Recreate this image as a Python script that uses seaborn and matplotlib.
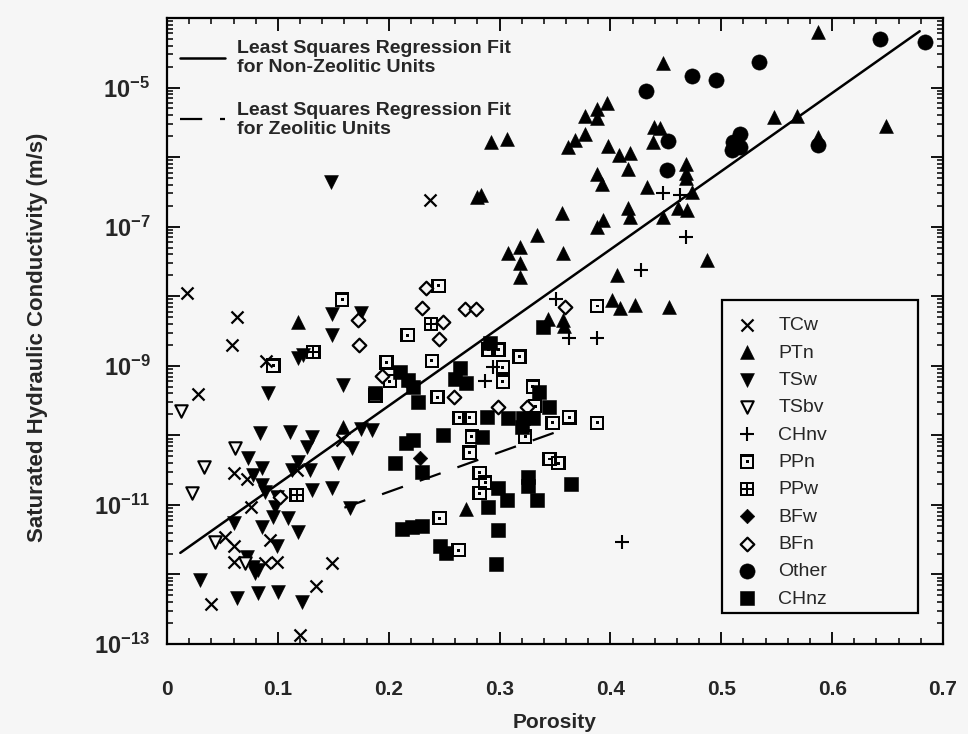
import numpy as np
import pandas as pd
import matplotlib
matplotlib.use("Agg")
import matplotlib.pyplot as plt
import seaborn as sns
from matplotlib.path import Path
from matplotlib.lines import Line2D
from matplotlib.ticker import FixedLocator, FuncFormatter, MultipleLocator, NullFormatter

# ---------------- data (porosity, log10 of saturated hydraulic conductivity in m/s) -------------
tcw_por = [0.018, 0.063, 0.059, 0.089, 0.028, 0.237, 0.060, 0.072, 0.076, 0.052, 0.060, 0.060,
           0.088, 0.099, 0.093, 0.117, 0.158, 0.149, 0.134, 0.040, 0.120]
tcw_logk = [-7.95, -8.30, -8.70, -8.93, -9.41, -6.62, -10.54, -10.63, -11.03, -11.46, -11.59, -11.82,
            -11.83, -11.82, -11.50, -10.50, -10.07, -11.83, -12.17, -12.42, -12.87]

ptn_por = [0.118, 0.159, 0.270, 0.280, 0.283, 0.292, 0.307, 0.308, 0.318, 0.334, 0.357, 0.318,
           0.318, 0.388, 0.344, 0.357, 0.358, 0.356, 0.362, 0.368, 0.377, 0.377, 0.388, 0.388,
           0.397, 0.398, 0.408, 0.418, 0.416, 0.388, 0.392, 0.433, 0.416, 0.418, 0.393, 0.447,
           0.447, 0.439, 0.445, 0.438, 0.406, 0.401, 0.409, 0.422, 0.453, 0.487, 0.468, 0.468,
           0.468, 0.474, 0.461, 0.469, 0.548, 0.568, 0.587, 0.587, 0.649]
ptn_logk = [-8.37, -9.88, -11.06, -6.57, -6.54, -5.78, -5.74, -7.38, -7.29, -7.12, -7.38, -7.52,
            -7.72, -7.00, -8.33, -8.34, -8.43, -6.80, -5.85, -5.75, -5.67, -5.41, -5.31, -5.44,
            -5.22, -5.84, -5.97, -5.94, -6.17, -6.24, -6.39, -6.43, -6.73, -6.86, -6.90, -6.86,
            -4.65, -5.57, -5.58, -5.78, -7.69, -8.05, -8.17, -8.13, -8.15, -7.48, -6.10, -6.23,
            -6.30, -6.50, -6.73, -6.76, -5.42, -5.41, -4.20, -5.71, -5.55]

tsw_por = [0.148, 0.149, 0.149, 0.175, 0.118, 0.123, 0.091, 0.159, 0.084, 0.111, 0.131, 0.073,
           0.126, 0.086, 0.078, 0.118, 0.113, 0.129, 0.154, 0.167, 0.086, 0.088, 0.099, 0.131,
           0.149, 0.097, 0.096, 0.109, 0.060, 0.086, 0.118, 0.099, 0.072, 0.078, 0.082, 0.079,
           0.030, 0.063, 0.082, 0.100, 0.122, 0.165, 0.175, 0.185]
tsw_logk = [-6.36, -8.26, -8.56, -8.24, -8.89, -8.84, -9.39, -9.28, -9.97, -9.95, -10.02, -10.33,
            -10.17, -10.47, -10.57, -10.38, -10.50, -10.50, -10.40, -10.18, -10.71, -10.81, -10.89, -10.79,
            -10.76, -11.03, -11.17, -11.19, -11.26, -11.32, -11.39, -11.59, -11.75, -11.89, -11.94, -11.98,
            -12.08, -12.34, -12.27, -12.25, -12.40, -11.04, -9.91, -9.92]

tsbv_por = [0.013, 0.033, 0.023, 0.061, 0.043, 0.070]
tsbv_logk = [-9.65, -10.45, -10.83, -10.18, -11.53, -11.83]

chnv_por = [0.447, 0.463, 0.468, 0.428, 0.388, 0.363, 0.351, 0.294, 0.287, 0.410]
chnv_logk = [-6.52, -6.54, -7.15, -7.62, -8.60, -8.60, -8.04, -9.02, -9.22, -11.53]

ppn_por = [0.096, 0.158, 0.245, 0.217, 0.198, 0.239, 0.201, 0.188, 0.244, 0.290, 0.299, 0.318,
           0.303, 0.303, 0.330, 0.332, 0.264, 0.273, 0.348, 0.363, 0.388, 0.388, 0.323, 0.275,
           0.273, 0.282, 0.287, 0.282, 0.246, 0.263, 0.345, 0.353]
ppn_logk = [-9.00, -8.05, -7.85, -8.56, -8.95, -8.93, -9.22, -9.43, -9.45, -8.77, -8.77, -8.87,
            -9.02, -9.23, -9.30, -9.58, -9.75, -9.75, -9.82, -9.74, -9.82, -8.14, -10.02, -10.02,
            -10.25, -10.54, -10.68, -10.83, -11.19, -11.65, -10.34, -10.40]

ppw_por = [0.132, 0.238, 0.117]
ppw_logk = [-8.80, -8.40, -10.86]

bfw_por = [0.228, 0.221]
bfw_logk = [-10.33, -9.29]

bfn_por = [0.172, 0.173, 0.234, 0.230, 0.269, 0.279, 0.249, 0.245, 0.194, 0.259, 0.299, 0.325,
           0.359, 0.102]
bfn_logk = [-8.34, -8.70, -7.88, -8.17, -8.18, -8.18, -8.37, -8.61, -9.15, -9.45, -9.59, -9.59,
            -8.15, -10.89]

other_por = [0.432, 0.474, 0.495, 0.534, 0.643, 0.684, 0.452, 0.451, 0.517, 0.511, 0.510, 0.517, 0.587]
other_logk = [-5.05, -4.83, -4.89, -4.63, -4.30, -4.35, -5.77, -6.19, -5.67, -5.78, -5.90, -5.85, -5.83]

chnz_por = [0.291, 0.264, 0.260, 0.270, 0.210, 0.217, 0.222, 0.188, 0.226, 0.289, 0.308, 0.321,
            0.330, 0.336, 0.345, 0.320, 0.249, 0.284, 0.222, 0.216, 0.206, 0.230, 0.326, 0.326,
            0.299, 0.307, 0.290, 0.334, 0.364, 0.212, 0.221, 0.230, 0.246, 0.252, 0.299, 0.297, 0.339]
chnz_logk = [-8.67, -9.03, -9.19, -9.25, -9.09, -9.20, -9.30, -9.39, -9.52, -9.74, -9.75, -9.75,
             -9.75, -9.38, -9.59, -9.88, -10.00, -10.02, -10.07, -10.11, -10.40, -10.53, -10.60, -10.73,
             -10.76, -10.93, -11.03, -10.93, -10.70, -11.35, -11.32, -11.30, -11.59, -11.69, -11.36, -11.85, -8.44]

# regression fits (porosity end points, log10 K end points)
fit_nonzeo_por = [0.012, 0.679]
fit_nonzeo_logk = [-11.69, -4.19]
fit_zeo_por = [0.160, 0.355]
fit_zeo_logk = [-11.04, -9.93]

unit_labels = ["TCw", "PTn", "TSw", "TSbv", "CHnv", "PPn", "PPw", "BFw", "BFn", "Other", "CHnz"]
fit_labels = ["Least Squares Regression Fit\nfor Non-Zeolitic Units",
              "Least Squares Regression Fit\nfor Zeolitic Units"]

# ---------------- styling ----------------
BG = "#f6f6f6"
sns.set_theme(style="ticks")
plt.rcParams["font.family"] = ["Liberation Sans", "DejaVu Sans"]
plt.rcParams["mathtext.fontset"] = "custom"
plt.rcParams["mathtext.rm"] = "Liberation Sans:bold"
plt.rcParams["mathtext.it"] = "Liberation Sans:bold"
plt.rcParams["mathtext.bf"] = "Liberation Sans:bold"
plt.rcParams["mathtext.default"] = "rm"


def rect(x0, y0, x1, y1, ccw=True):
    pts = [(x0, y0), (x1, y0), (x1, y1), (x0, y1)]
    if not ccw:
        pts = pts[::-1]
    return pts + [(x0, y0)], [Path.MOVETO, Path.LINETO, Path.LINETO, Path.LINETO, Path.CLOSEPOLY]


def compound(parts):
    verts, codes = [], []
    for v, c in parts:
        verts += v
        codes += c
    return Path(verts, codes)


inner = 0.68
dot_marker = compound([rect(-1, -1, 1, 1), rect(-inner, -inner, inner, inner, ccw=False),
                       rect(-0.2, -0.2, 0.2, 0.2)])
t = 0.13
grid_marker = compound([rect(-1, -1, 1, 1),
                        rect(-inner, -inner, -t, -t, ccw=False), rect(t, -inner, inner, -t, ccw=False),
                        rect(-inner, t, -t, inner, ccw=False), rect(t, t, inner, inner, ccw=False)])

groups = [
    ("TCw", tcw_por, tcw_logk, dict(marker="x", s=75, color="black", linewidth=1.6)),
    ("PTn", ptn_por, ptn_logk, dict(marker="^", s=100, color="black", edgecolor="black", linewidth=0.4)),
    ("TSw", tsw_por, tsw_logk, dict(marker="v", s=100, color="black", edgecolor="black", linewidth=0.4)),
    ("TSbv", tsbv_por, tsbv_logk, dict(marker="v", s=80, facecolor=BG, edgecolor="black", linewidth=1.5)),
    ("CHnv", chnv_por, chnv_logk, dict(marker="+", s=95, color="black", linewidth=1.5)),
    ("PPn", ppn_por, ppn_logk, dict(marker=dot_marker, s=110, color="black", edgecolor="none", linewidth=0)),
    ("PPw", ppw_por, ppw_logk, dict(marker=grid_marker, s=110, color="black", edgecolor="none", linewidth=0)),
    ("BFw", bfw_por, bfw_logk, dict(marker="D", s=55, color="black", edgecolor="black", linewidth=0.4)),
    ("BFn", bfn_por, bfn_logk, dict(marker="D", s=48, facecolor=BG, edgecolor="black", linewidth=1.6)),
    ("Other", other_por, other_logk, dict(marker="o", s=120, color="black", edgecolor="black", linewidth=0.4)),
    ("CHnz", chnz_por, chnz_logk, dict(marker="s", s=110, color="black", edgecolor="black", linewidth=0.4)),
]

fig = plt.figure(figsize=(9.68, 7.34), dpi=100, facecolor=BG)
ax = fig.add_axes([167 / 968, 1 - 644 / 734, (943 - 167) / 968, (644 - 18) / 734])
ax.set_facecolor(BG)
ax.set_yscale("log")

# fit lines
fit_df1 = pd.DataFrame({"por": fit_nonzeo_por, "K": 10.0 ** np.array(fit_nonzeo_logk)})
fit_df2 = pd.DataFrame({"por": fit_zeo_por, "K": 10.0 ** np.array(fit_zeo_logk)})
sns.lineplot(data=fit_df1, x="por", y="K", color="black", linewidth=1.8, ax=ax, legend=False)
sns.lineplot(data=fit_df2, x="por", y="K", color="black", linewidth=1.6, ax=ax, legend=False,
             linestyle=(0, (10, 8)))

scatter_handles = []
for name, por, logk, kw in groups:
    df = pd.DataFrame({"por": por, "K": 10.0 ** np.array(logk)})
    n_before = len(ax.collections)
    sns.scatterplot(data=df, x="por", y="K", ax=ax, legend=False, zorder=3, **kw)
    scatter_handles.append(ax.collections[n_before])

ax.set_xlim(0, 0.7)
ax.set_ylim(1e-13, 1e-4)

# ticks
ax.xaxis.set_major_locator(MultipleLocator(0.1))
ax.xaxis.set_minor_locator(MultipleLocator(0.02))
ax.xaxis.set_major_formatter(FuncFormatter(lambda v, p: "0" if abs(v) < 1e-9 else f"{v:.1f}"))
decades = [10.0 ** e for e in range(-13, -3)]
ax.yaxis.set_major_locator(FixedLocator(decades))
minors = [m * 10.0 ** e for e in range(-13, -4) for m in range(2, 10)]
ax.yaxis.set_minor_locator(FixedLocator(minors))
ax.yaxis.set_minor_formatter(NullFormatter())


def ylab(v, p):
    e = int(round(np.log10(v)))
    if e % 2 == 0 or e == -4:
        return ""
    return r"$\mathregular{10^{%d}}$" % e


ax.yaxis.set_major_formatter(FuncFormatter(ylab))
ax.tick_params(which="both", direction="in", top=True, right=True, color="black")
ax.tick_params(which="major", length=9, width=1.3)
ax.tick_params(which="minor", length=4.5, width=1.1)
ax.tick_params(axis="x", which="major", pad=26, labelsize=15)
ax.tick_params(axis="y", which="major", pad=12, labelsize=17)
for lab in ax.get_xticklabels() + ax.get_yticklabels():
    lab.set_fontweight("bold")
for sp in ax.spines.values():
    sp.set_visible(True)
    sp.set_linewidth(1.6)
    sp.set_color("black")

ax.set_xlabel("Porosity", fontsize=15, fontweight="bold")
ax.set_ylabel("Saturated Hydraulic Conductivity (m/s)", fontsize=16, fontweight="bold")
ax.yaxis.set_label_coords(-0.153, 0.49)
ax.xaxis.set_label_coords(0.5, -0.11)

# legends
line_handles = [Line2D([], [], color="black", linewidth=1.8),
                Line2D([], [], color="black", linewidth=1.6, linestyle=(0, (10, 8)))]
leg1 = ax.legend(line_handles, fit_labels, loc="upper left", bbox_to_anchor=(-0.003, 0.989),
                 frameon=False, prop={"weight": "bold", "size": 14}, handlelength=2.3,
                 handletextpad=0.6, borderpad=0.8, labelspacing=1.3, borderaxespad=0)
for txt in leg1.get_texts():
    txt.set_linespacing(1.15)
ax.add_artist(leg1)

leg2 = ax.legend(scatter_handles, unit_labels, loc="upper left",
                 bbox_to_anchor=(0.715, 0.0, 0.253, 0.5495), mode="expand",
                 borderaxespad=0, frameon=True, fancybox=False, fontsize=14,
                 labelspacing=0.5, handlelength=2.0, handletextpad=0.6, borderpad=0.3,
                 title=" ", title_fontsize=1)
leg2.get_frame().set_edgecolor("black")
leg2.get_frame().set_linewidth(1.6)
leg2.get_frame().set_facecolor(BG)
leg2.get_frame().set_alpha(1)

fig.savefig("out.png", dpi=100, facecolor=BG)
